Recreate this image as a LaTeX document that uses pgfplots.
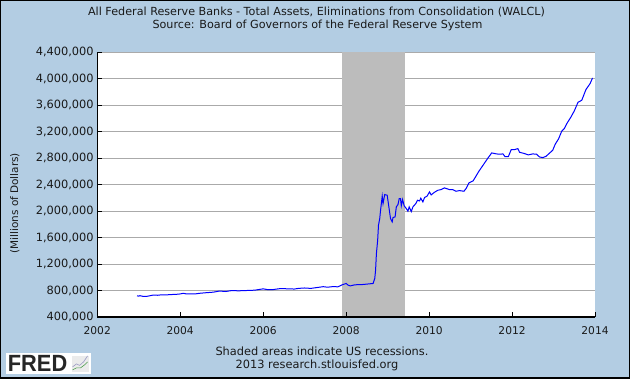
\documentclass[border=0pt]{standalone}
\usepackage{pgfplots}
\pgfplotsset{compat=1.18}
\usepackage{fontspec}
\setmainfont{DejaVu Sans}
\newfontfamily\logofont{Liberation Sans}
\definecolor{panel}{RGB}{179,205,227}
\definecolor{ink}{RGB}{25,25,25}
\definecolor{gridc}{RGB}{170,170,170}
\definecolor{shade}{RGB}{188,188,188}
\begin{document}
\begin{tikzpicture}[x=1pt,y=1pt]
\fill[panel] (0,0) rectangle (630,378);
\begin{axis}[
  at={(96.7pt,61pt)},anchor=south west,scale only axis,width=499pt,height=265.5pt,
  xmin=2002,xmax=2014,ymin=400000,ymax=4400000,
  xtick={2002,2004,...,2014},
  ytick={400000,800000,1200000,1600000,2000000,2400000,2800000,3200000,3600000,4000000,4400000},
  axis line style={draw=none},
  axis background/.style={fill=white},
  xticklabels={},yticklabels={},
  scaled y ticks=false,
  major tick length=0pt,
  ymajorgrids,
  grid style={gridc,line width=1pt},
  clip=true]
\addplot[draw=none,fill=shade] coordinates {(2007.90,400000) (2007.90,4400000) (2009.41,4400000) (2009.41,400000)} -- cycle;
\addplot[blue,line width=1pt,no marks] coordinates {
(2002.96,720000)(2003.00,715000)(2003.03,722000)(2003.10,712000)(2003.20,712000)(2003.28,722000)(2003.36,732000)(2003.45,728000)(2003.55,735000)(2003.65,733000)(2003.75,738000)(2003.90,742000)(2004.00,748000)(2004.08,758000)(2004.15,748000)(2004.25,750000)(2004.35,748000)(2004.50,760000)(2004.65,768000)(2004.80,775000)(2004.95,792000)(2005.10,785000)(2005.25,800000)(2005.40,795000)(2005.60,800000)(2005.80,805000)(2006.00,825000)(2006.12,812000)(2006.25,815000)(2006.40,828000)(2006.60,826000)(2006.75,822000)(2006.85,832000)(2007.00,838000)(2007.15,832000)(2007.30,845000)(2007.45,858000)(2007.55,850000)(2007.70,860000)(2007.80,855000)
(2007.90,885000)(2008.00,906000)(2008.05,880000)(2008.10,870000)(2008.21,886000)(2008.41,891000)(2008.65,906000)(2008.69,981000)(2008.71,1107000)(2008.73,1358000)(2008.76,1560000)(2008.78,1786000)(2008.81,1887000)(2008.83,2012000)(2008.87,2224000)(2008.89,2113000)(2008.93,2249000)(2008.99,2239000)(2009.03,2063000)(2009.07,1887000)(2009.11,1836000)(2009.13,1902000)(2009.18,1912000)(2009.21,2063000)(2009.25,2098000)(2009.28,2189000)(2009.31,2189000)(2009.33,2078000)(2009.36,2173000)(2009.40,2078000)(2009.45,2038000)(2009.49,1997000)(2009.52,2063000)(2009.57,1992000)(2009.61,2063000)(2009.68,2113000)(2009.72,2163000)(2009.77,2153000)(2009.80,2194000)(2009.85,2138000)(2009.89,2204000)(2009.95,2224000)(2010.01,2289000)(2010.05,2244000)(2010.13,2284000)(2010.21,2314000)(2010.29,2324000)(2010.37,2350000)(2010.49,2324000)(2010.57,2324000)(2010.65,2299000)(2010.73,2309000)(2010.84,2299000)(2010.89,2339000)(2010.96,2425000)(2011.06,2455000)(2011.12,2516000)(2011.19,2591000)(2011.30,2692000)(2011.42,2802000)(2011.51,2878000)(2011.62,2863000)(2011.70,2858000)(2011.78,2863000)(2011.83,2822000)(2011.91,2822000)(2011.98,2928000)(2012.06,2928000)(2012.14,2943000)(2012.18,2888000)(2012.30,2868000)(2012.39,2848000)(2012.50,2863000)(2012.59,2858000)(2012.66,2817000)(2012.74,2807000)(2012.82,2827000)(2012.90,2873000)(2012.98,2918000)(2013.04,3009000)(2013.12,3089000)(2013.20,3210000)(2013.26,3245000)(2013.32,3321000)(2013.42,3421000)(2013.50,3512000)(2013.59,3643000)(2013.68,3673000)(2013.78,3834000)(2013.88,3924000)(2013.94,4010000)
};
\end{axis}
\begin{axis}[
  at={(96.7pt,61pt)},anchor=south west,scale only axis,width=499pt,height=265.5pt,
  xmin=2002,xmax=2014,ymin=400000,ymax=4400000,
  xtick={2002,2004,...,2014},
  ytick={400000,800000,1200000,1600000,2000000,2400000,2800000,3200000,3600000,4000000,4400000},
  axis lines=left,
  axis line style={-,black,line width=1.2pt},
  tick style={black,line width=1pt},
  tick align=inside,major tick length=5pt,
  scaled y ticks=false,
  xticklabel style={font=\fontsize{10.7}{13}\selectfont,text=ink,yshift=-6.5pt,/pgf/number format/.cd,1000 sep={},assume math mode=true},
  yticklabel style={font=\fontsize{11.4}{13}\selectfont,text=ink,/pgf/number format/.cd,fixed,precision=0,1000 sep={,},assume math mode=true},
  xtick pos=lower,ytick pos=left]
\end{axis}
\node[text=ink,font=\fontsize{11.2}{12}\selectfont] at (316.5,367) {All Federal Reserve Banks - Total Assets, Eliminations from Consolidation (WALCL)};
\node[text=ink,font=\fontsize{11.2}{12}\selectfont] at (317.5,353) {Source: Board of Governors of the Federal Reserve System};
\node[text=ink,rotate=90,font=\fontsize{10.5}{12}\selectfont] at (14,175) {(Millions of Dollars)};
\node[text=ink,font=\fontsize{11.4}{12}\selectfont] at (322,27) {Shaded areas indicate US recessions.};
\node[text=ink,font=\fontsize{11.4}{12}\selectfont] at (317,13) {2013 research.stlouisfed.org};
% FRED logo
\fill[white] (5,4) rectangle (90,25);
\node[anchor=west,inner sep=0pt,xscale=0.93,font=\logofont\fontsize{23.5}{24}\selectfont\bfseries,text=black!85] at (7,14.5) {FRED};
\fill[black!8] (71,6) rectangle (88,22);
\draw[blue!40!black!40,line width=0.6pt] (72,11) -- (76,14) -- (79,12.5) -- (83,16) -- (87,22);
\draw[green!45!black!70,line width=0.6pt] (72,8) -- (76,10) -- (80,10) -- (84,13) -- (87,16);
\draw[black,line width=1.5pt] (0,0) rectangle (630,378);
\end{tikzpicture}
\end{document}
